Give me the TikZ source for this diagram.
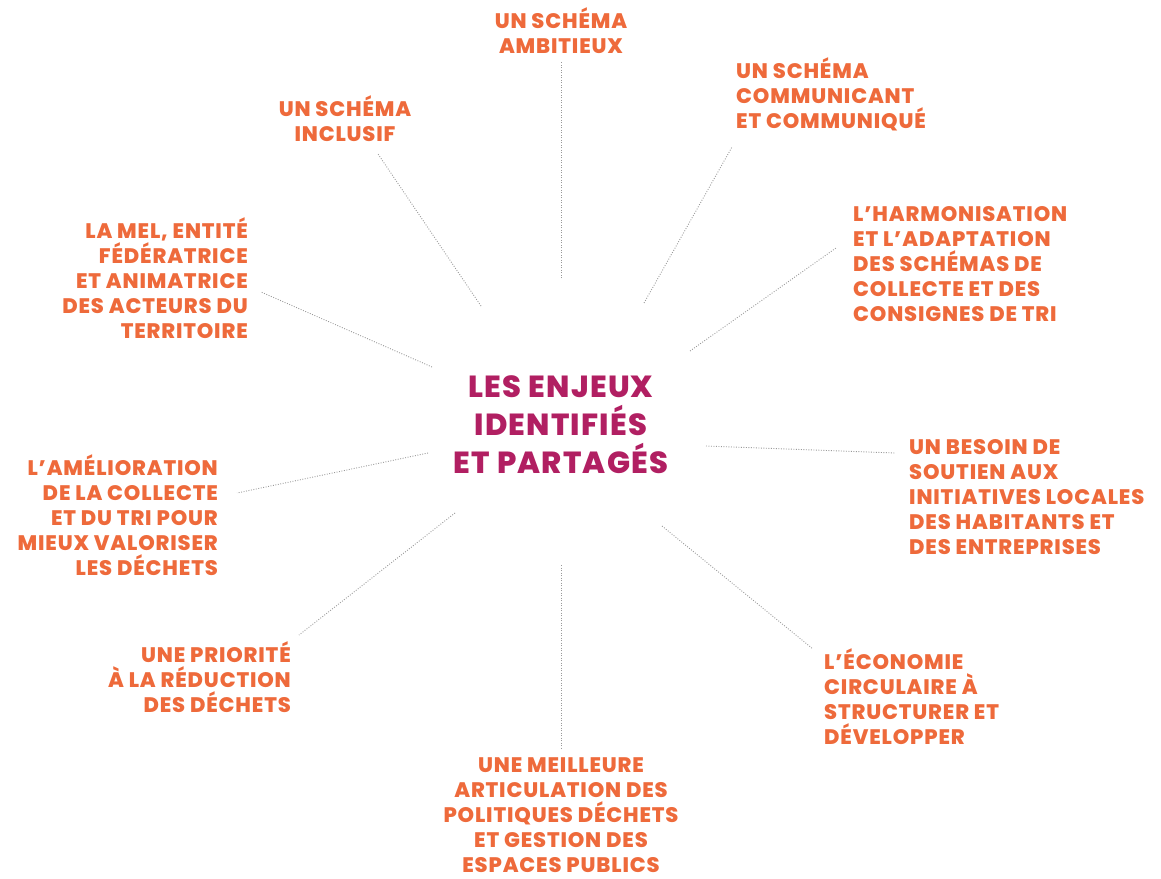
\documentclass[tikz,border=0pt]{standalone}
\usepackage{fontspec}
\setmainfont{Poppins}[BoldFont={Poppins ExtraBold}, LetterSpace=4]
\usetikzlibrary{positioning}

\definecolor{enjorange}{HTML}{EE6A3B}
\definecolor{enjmagenta}{HTML}{B11F62}

\tikzset{
  enjeu/.style={font=\fontsize{21}{25}\selectfont\bfseries, text=enjorange, inner sep=0pt},
  centre/.style={font=\fontsize{30.5}{38}\selectfont\bfseries, text=enjmagenta, inner sep=0pt, align=center},
  lien/.style={draw=gray!80, line width=0.9pt, dash pattern=on 0.9pt off 1.6pt}
}

\begin{document}
\begin{tikzpicture}[x=1pt, y=-1pt]
\useasboundingbox (0,0) rectangle (1161,878);
%      \draw [help lines, opacity=0.5] (0,0) grid[step=50] (1161,878);
%     base anchors sit on the last line of each text
      \node [centre, anchor=base] (enjeux) at (561,473) {LES ENJEUX\\IDENTIFIÉS\\ET PARTAGÉS};

      \node [enjeu, anchor=base, align=center] (ambitieux) at (561,53) {UN SCHÉMA\\AMBITIEUX};
      \node [enjeu, anchor=base, align=center] (inclusif) at (345,141) {UN SCHÉMA\\INCLUSIF};
      \node [enjeu, anchor=base west, align=left] (communicant) at (736,128) {UN SCHÉMA\\COMMUNICANT\\ET COMMUNIQUÉ};
      \node [enjeu, anchor=base west, align=left] (harmonisation) at (853,321)
      {L’HARMONISATION\\ET L’ADAPTATION\\DES SCHÉMAS DE\\COLLECTE ET DES\\CONSIGNES DE TRI};
      \node [enjeu, anchor=base east, align=right] (mel) at (248,338)
      {LA MEL, ENTITÉ\\FÉDÉRATRICE\\ET ANIMATRICE\\DES ACTEURS DU\\TERRITOIRE};
      \node [enjeu, anchor=base west, align=left] (besoin) at (909,554)
      {UN BESOIN DE\\SOUTIEN AUX\\INITIATIVES LOCALES\\DES HABITANTS ET\\DES ENTREPRISES};
      \node [enjeu, anchor=base east, align=right] (amelioration) at (218,575)
      {L’AMÉLIORATION\\DE LA COLLECTE\\ET DU TRI POUR\\MIEUX VALORISER\\LES DÉCHETS};
      \node [enjeu, anchor=base east, align=right] (priorite) at (291,712)
      {UNE PRIORITÉ\\À LA RÉDUCTION\\DES DÉCHETS};
      \node [enjeu, anchor=base west, align=left] (economie) at (824,744)
      {L’ÉCONOMIE\\CIRCULAIRE À\\STRUCTURER ET\\DÉVELOPPER};
      \node [enjeu, anchor=base, align=center] (articulation) at (561,872)
      {UNE MEILLEURE\\ARTICULATION DES\\POLITIQUES DÉCHETS\\ET GESTION DES\\ESPACES PUBLICS};

%     ends of the dotted links
      \coordinate (c-ambitieux) at (561,278);      \coordinate (e-ambitieux) at (561,62);
      \coordinate (c-inclusif) at (481,306);       \coordinate (e-inclusif) at (378,154);
      \coordinate (c-communicant) at (644,303);    \coordinate (e-communicant) at (732,147);
      \coordinate (c-harmonisation) at (690,351);  \coordinate (e-harmonisation) at (836,248);
      \coordinate (c-mel) at (432,367);            \coordinate (e-mel) at (261,292);
      \coordinate (c-besoin) at (706,446);         \coordinate (e-besoin) at (895,453);
      \coordinate (c-amelioration) at (428,453);   \coordinate (e-amelioration) at (237,493);
      \coordinate (c-priorite) at (455,513);       \coordinate (e-priorite) at (299,635);
      \coordinate (c-economie) at (662,526);       \coordinate (e-economie) at (813,649);
      \coordinate (c-articulation) at (561,565);   \coordinate (e-articulation) at (561,749);

      \foreach \n in {ambitieux,inclusif,communicant,harmonisation,mel,besoin,amelioration,priorite,economie,articulation}
        \draw [lien] (c-\n) -- (e-\n);
\end{tikzpicture}
\end{document}
